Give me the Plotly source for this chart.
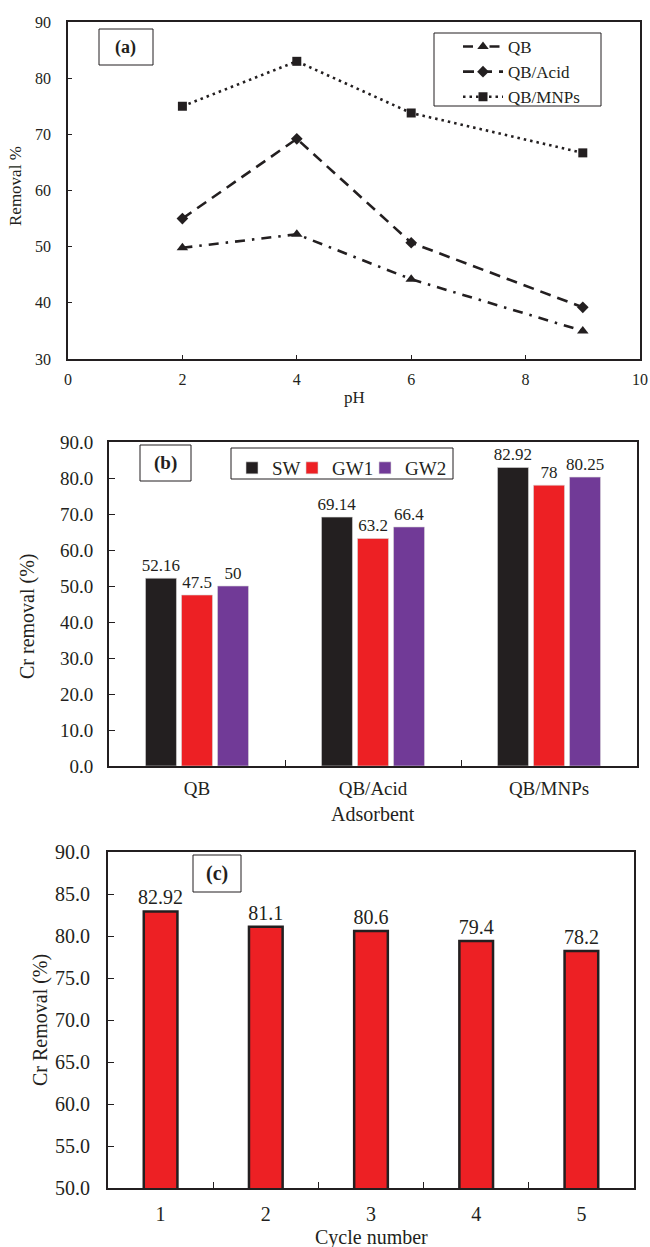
import plotly.graph_objects as go

# ---------------- data ----------------
ph = [2, 4, 6, 9]
qb = [49.8, 52.2, 44.2, 35.0]
qb_acid = [55.0, 69.2, 50.7, 39.2]
qb_mnps = [75.0, 83.0, 73.8, 66.7]

adsorbents = ["QB", "QB/Acid", "QB/MNPs"]
sw = [52.16, 69.14, 82.92]
gw1 = [47.5, 63.2, 78]
gw2 = [50, 66.4, 80.25]

cycles = ["1", "2", "3", "4", "5"]
cycle_removal = [82.92, 81.1, 80.6, 79.4, 78.2]

# ---------------- layout helpers ----------------
W, H = 650, 1247
FONT = "Liberation Serif"
INK = "#231F20"


def px(x):
    return x / W


def py(y):
    return 1 - y / H


def fmt(vals):
    return [f"{v:g}" for v in vals]


fig = go.Figure()

# Panel (a)
fig.add_trace(go.Scatter(x=ph, y=qb, name="QB", mode="lines+markers",
                         line=dict(color=INK, width=2.6, dash="10px,7px,2.5px,7px"),
                         marker=dict(symbol="triangle-up", size=10, color=INK),
                         legendgroup="g1", xaxis="x", yaxis="y", legend="legend"))
fig.add_trace(go.Scatter(x=ph, y=qb_acid, name="QB/Acid", mode="lines+markers",
                         line=dict(color=INK, width=2.6, dash="11px,7px"),
                         marker=dict(symbol="diamond", size=9, color=INK),
                         legendgroup="g2", xaxis="x", yaxis="y", legend="legend"))
fig.add_trace(go.Scatter(x=ph, y=qb_mnps, name="QB/MNPs", mode="lines+markers",
                         line=dict(color=INK, width=2.6, dash="2.5px,4px"),
                         marker=dict(symbol="square", size=9, color=INK),
                         legendgroup="g3", xaxis="x", yaxis="y", legend="legend"))

# Panel (b)
bar_colors = {"SW": "#231F20", "GW1": "#ED2024", "GW2": "#713A97"}
bar_legends = {"SW": "legend2", "GW1": "legend3", "GW2": "legend4"}
for name, vals in [("SW", sw), ("GW1", gw1), ("GW2", gw2)]:
    fig.add_trace(go.Bar(x=adsorbents, y=vals, name=name,
                         marker=dict(color=bar_colors[name], line=dict(color="#d8d8d8", width=0.6)),
                         text=fmt(vals), texttemplate="%{text}", textposition="outside",
                         constraintext="none", cliponaxis=False,
                         textfont=dict(family=FONT, size=17, color=INK),
                         xaxis="x2", yaxis="y2", legend=bar_legends[name]))

# Panel (c)
fig.add_trace(go.Bar(x=cycles, y=cycle_removal, name="Cycle", showlegend=False,
                     width=0.32,
                     marker=dict(color="#ED2024", line=dict(color=INK, width=2.5)),
                     text=fmt(cycle_removal), texttemplate="%{text}", textposition="outside",
                     constraintext="none", cliponaxis=False,
                     textfont=dict(family=FONT, size=20, color=INK),
                     xaxis="x3", yaxis="y3"))

axis_common = dict(showline=True, linecolor=INK, linewidth=1.8, mirror=True,
                   showgrid=False, zeroline=False, ticks="inside",
                   tickcolor=INK, tickwidth=1.2)

small_legend = dict(yanchor="top", xanchor="left", orientation="h",
                    bgcolor="rgba(0,0,0,0)", borderwidth=0, itemwidth=30,
                    font=dict(size=19, color=INK))

layout = dict(
    width=W, height=H,
    margin=dict(l=0, r=0, t=0, b=0, autoexpand=False),
    paper_bgcolor="white", plot_bgcolor="white",
    font=dict(family=FONT, color=INK),
    barmode="group", bargap=0.386, bargroupgap=0.14,
    xaxis=dict(axis_common, domain=[px(68), px(640)], range=[0, 10], dtick=2,
               ticklen=4, ticklabelstandoff=5,
               tickfont=dict(size=16), anchor="y"),
    yaxis=dict(axis_common, domain=[py(359), py(22)], range=[30, 90], dtick=10,
               ticklen=4, ticklabelstandoff=12,
               tickfont=dict(size=16), anchor="x"),
    xaxis2=dict(axis_common, domain=[px(109), px(637)], type="category",
                tickson="boundaries", ticklen=6, ticklabelstandoff=4,
                tickfont=dict(size=19), anchor="y2"),
    yaxis2=dict(axis_common, domain=[py(766), py(442)], range=[0, 90], dtick=10,
                tickformat=".1f", ticklen=6, ticklabelstandoff=10,
                tickfont=dict(size=19), anchor="x2"),
    xaxis3=dict(axis_common, domain=[px(108), px(634)], type="category",
                tickson="boundaries", ticklen=6, ticklabelstandoff=7,
                tickfont=dict(size=20), anchor="y3"),
    yaxis3=dict(axis_common, domain=[py(1188), py(852)], range=[50, 90], dtick=5,
                tickformat=".1f", ticklen=6, ticklabelstandoff=12,
                tickfont=dict(size=20), anchor="x3"),
    legend=dict(x=px(458), y=py(29), xanchor="left", yanchor="top",
                bgcolor="rgba(0,0,0,0)", borderwidth=0, itemwidth=40,
                font=dict(size=17, color=INK), tracegroupgap=0),
    legend2=dict(small_legend, x=px(232), y=py(449)),
    legend3=dict(small_legend, x=px(292), y=py(449)),
    legend4=dict(small_legend, x=px(365), y=py(449)),
)

shapes = [
    # legend boxes
    dict(type="rect", xref="paper", yref="paper", x0=px(434), x1=px(601), y0=py(106), y1=py(33),
         line=dict(color=INK, width=1)),
    dict(type="rect", xref="paper", yref="paper", x0=px(231), x1=px(453), y0=py(479), y1=py(448),
         line=dict(color=INK, width=1)),
    # panel label boxes
    dict(type="rect", xref="paper", yref="paper", x0=px(99), x1=px(153), y0=py(65), y1=py(29),
         line=dict(color=INK, width=1)),
    dict(type="rect", xref="paper", yref="paper", x0=px(140), x1=px(191), y0=py(481), y1=py(445),
         line=dict(color=INK, width=1)),
    dict(type="rect", xref="paper", yref="paper", x0=px(193), x1=px(241), y0=py(892), y1=py(855),
         line=dict(color=INK, width=1)),
]


def ann(text, x, y, size, angle=0, bold=False):
    return dict(text=f"<b>{text}</b>" if bold else text, xref="paper", yref="paper",
                x=px(x), y=py(y), xanchor="center", yanchor="middle",
                showarrow=False, textangle=angle,
                font=dict(family=FONT, size=size, color=INK))


annotations = [
    ann("(a)", 126, 47, 18, bold=True),
    ann("(b)", 165.5, 463, 19, bold=True),
    ann("(c)", 217, 873.5, 20, bold=True),
    ann("Removal %", 16, 186, 17, angle=-90),
    ann("pH", 354, 397, 17),
    ann("Cr removal (%)", 27, 616, 20, angle=-90),
    ann("Adsorbent", 373, 814, 20),
    ann("Cr Removal (%)", 40, 1020, 20, angle=-90),
    ann("Cycle number", 371, 1237, 20),
]

layout["shapes"] = shapes
layout["annotations"] = annotations
fig.update_layout(**layout)

fig.write_html("out.html")
